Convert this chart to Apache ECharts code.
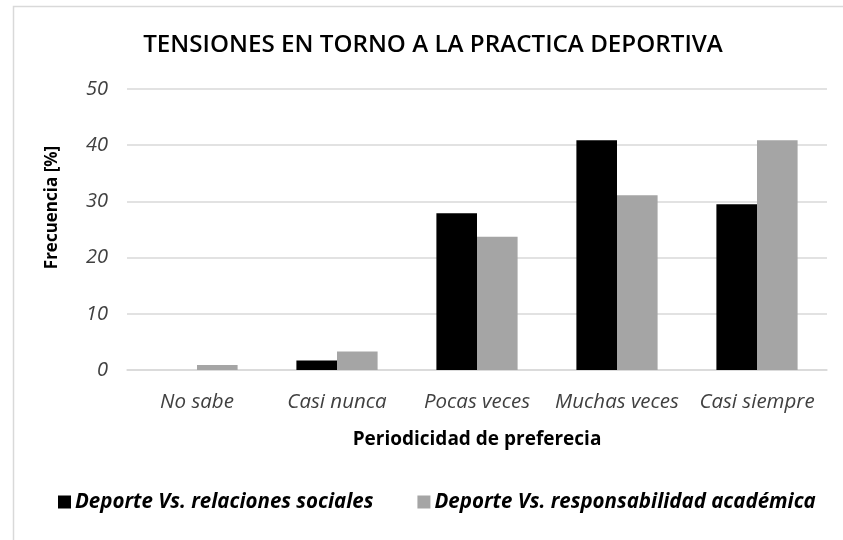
<!DOCTYPE html>
<html><head><meta charset="utf-8">
<script src="https://cdn.jsdelivr.net/npm/echarts@6/dist/echarts.min.js"></script>
<style>html,body{margin:0;padding:0;background:#fff}#c{width:843px;height:540px}</style>
</head><body><div id="c"></div>
<script>
const categories = ['No sabe', 'Casi nunca', 'Pocas veces', 'Muchas veces', 'Casi siempre'];
const seriesNames = ['Deporte Vs. relaciones sociales', 'Deporte Vs. responsabilidad académica'];
const relacionesSociales = [0, 1.7, 27.9, 40.9, 29.5];
const responsabilidadAcademica = [0.9, 3.3, 23.7, 31.1, 40.9];
const yTicks = [0, 10, 20, 30, 40, 50];

const FONT = '"Open Sans", sans-serif';
const chart = echarts.init(document.getElementById('c'), null, {renderer: 'canvas'});
chart.setOption({
  animation: false,
  backgroundColor: '#fff',
  graphic: [{
    type: 'rect', left: 11, top: 4, shape: {width: 900, height: 600},
    style: {fill: 'none', stroke: '#d9d9d9', lineWidth: 1.5}, silent: true
  }],
  title: {
    text: 'TENSIONES EN TORNO A LA PRACTICA DEPORTIVA',
    left: 428, top: 28, textAlign: 'center',
    textStyle: {fontFamily: FONT, fontSize: 24.2, fontWeight: 600, color: '#000'}
  },
  legend: {
    data: seriesNames, left: 53, top: 487, itemWidth: 13, itemHeight: 13, itemGap: 44,
    icon: 'rect',
    textStyle: {fontFamily: FONT, fontSize: 20.5, fontWeight: 'bold', fontStyle: 'italic', color: '#000', padding: [0, 0, 0, -1]}
  },
  grid: {left: 127, right: 16, top: 89, bottom: 170, containLabel: false},
  xAxis: {
    type: 'category', data: categories,
    name: 'Periodicidad de preferecia', nameLocation: 'middle', nameGap: 60,
    nameTextStyle: {fontFamily: FONT, fontSize: 19, fontWeight: 'bold', color: '#000'},
    axisLine: {lineStyle: {color: '#d9d9d9', width: 1.5}},
    axisTick: {show: false},
    axisLabel: {interval: 0, fontFamily: FONT, fontSize: 20.5, fontStyle: 'italic', color: '#404040', margin: 22}
  },
  yAxis: {
    type: 'value', min: 0, max: 50, interval: 10,
    name: 'Frecuencia [%]', nameLocation: 'middle', nameGap: 66, nameRotate: 90,
    nameTextStyle: {fontFamily: FONT, fontSize: 17, fontWeight: 'bold', color: '#000', padding: [0, 0, 0, 44]},
    axisLine: {show: false}, axisTick: {show: false},
    splitLine: {lineStyle: {color: '#d9d9d9', width: 1.5}},
    axisLabel: {fontFamily: FONT, fontSize: 20, fontStyle: 'italic', color: '#404040', margin: 19,
      formatter: v => yTicks.includes(v) ? String(v) : ''}
  },
  series: [
    {name: seriesNames[0], type: 'bar', data: relacionesSociales, barGap: '0%', barCategoryGap: '42%',
     itemStyle: {color: '#000000'}},
    {name: seriesNames[1], type: 'bar', data: responsabilidadAcademica, barGap: '0%', barCategoryGap: '42%',
     itemStyle: {color: '#a5a5a5'}}
  ]
});
</script></body></html>
